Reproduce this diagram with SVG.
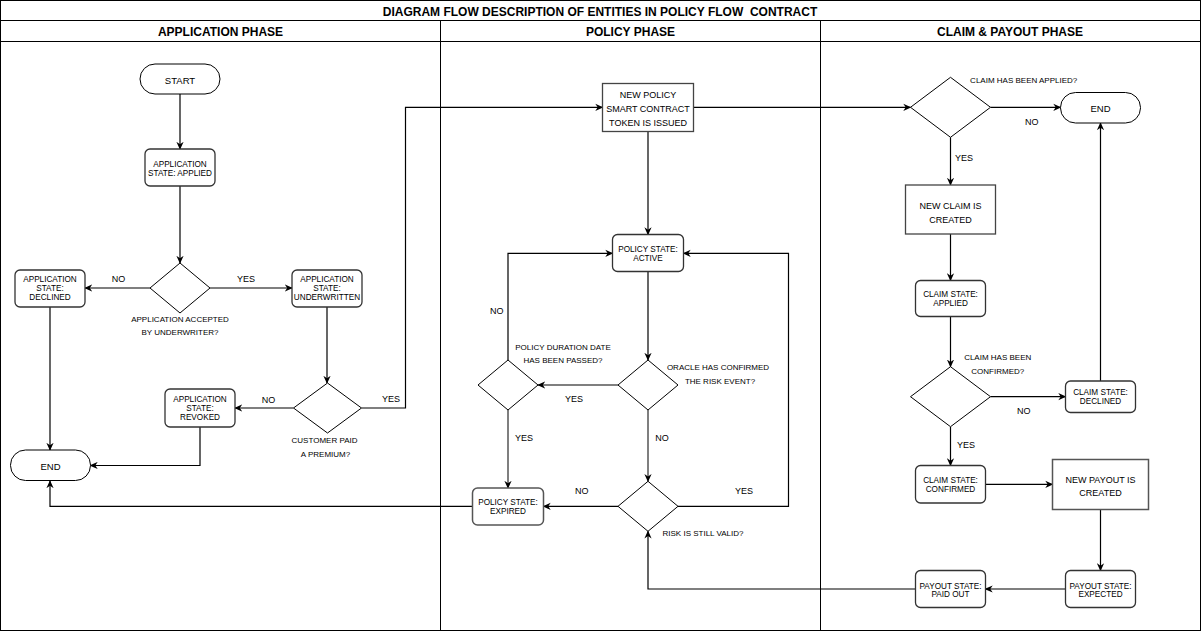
<svg xmlns="http://www.w3.org/2000/svg" width="1201" height="631" viewBox="0 0 1201 631">
<style>
text{font-family:"Liberation Sans",Arial,sans-serif;fill:#000;text-anchor:middle}
.title{font-size:12px;font-weight:bold;white-space:pre}
.hdr{font-size:12px;font-weight:bold}
.bt{font-size:8.2px}
.nt{font-size:9px}
.term{font-size:9.5px}
.lbl{font-size:8px}
.yn{font-size:9px}
.frame{fill:none;stroke:#000;stroke-width:1}
.rbox{fill:#fff;stroke:#333;stroke-width:1.3}
.sbox{fill:#fff;stroke:#444;stroke-width:1.3}
.dia{fill:#fff;stroke:#000;stroke-width:1}
.c{fill:none;stroke:#000;stroke-width:1.2;marker-end:url(#arr)}
.g{stroke:#555;stroke-width:1.5}
</style>
<defs>
<marker id="arr" viewBox="0 0 10 10" refX="9" refY="5" markerWidth="8" markerHeight="8" markerUnits="userSpaceOnUse" orient="auto">
<path d="M0,0.5 L10,5 L0,9.5 L3,5 Z" fill="#000"/>
</marker>
</defs>
<rect width="1201" height="631" fill="#fff"/>
<g id="frame">
<rect class="frame" x="0.5" y="0.5" width="1200" height="630"/>
<line class="frame" x1="0" y1="20.5" x2="1201" y2="20.5"/>
<line class="frame" x1="0" y1="41.5" x2="1201" y2="41.5"/>
<line class="frame" x1="440.5" y1="20.5" x2="440.5" y2="631"/>
<line class="frame" x1="820.5" y1="20.5" x2="820.5" y2="631"/>
<text class="title" x="600" y="15.5">DIAGRAM FLOW DESCRIPTION OF ENTITIES IN POLICY FLOW  CONTRACT</text>
<text class="hdr" x="220.5" y="36">APPLICATION PHASE</text>
<text class="hdr" x="630.5" y="36">POLICY PHASE</text>
<text class="hdr" x="1010" y="36">CLAIM &amp; PAYOUT PHASE</text>
</g>
<g id="connectors">
<path class="c" d="M180,94 V149"/>
<path class="c" d="M180,186 V263"/>
<path class="c" d="M150,288 H85"/>
<path class="c" d="M210,288 H292"/>
<path class="c" d="M327,307 V383"/>
<path class="c g" d="M293.5,408 H235"/>
<path class="c" d="M361.5,408 H405.5 V107.3 H602.5"/>
<path class="c" d="M50,307 V450"/>
<path class="c" d="M200,427 V465.5 H90.5"/>
<path class="c" d="M648,131.5 V234.5"/>
<path class="c" d="M693.5,107.3 H910.5"/>
<path class="c" d="M648,271.5 V360"/>
<path class="c g" d="M618,385 H538"/>
<path class="c" d="M508,360 V253.3 H612.5"/>
<path class="c g" d="M508,410 V488"/>
<path class="c g" d="M648,410 V481.3"/>
<path class="c" d="M618,506.3 H543.5"/>
<path class="c" d="M678,506.3 H788.5 V253.3 H683.5"/>
<path class="c" d="M472.5,506.3 H50 V481"/>
<path class="c" d="M990.5,107.3 H1060.5"/>
<path class="c" d="M950.5,137.3 V185"/>
<path class="c" d="M950.5,234 V280.5"/>
<path class="c" d="M950.5,316.5 V366.7"/>
<path class="c" d="M990.5,396.7 H1065.5"/>
<path class="c" d="M1100.5,381 V123"/>
<path class="c" d="M950.5,426.7 V465.5"/>
<path class="c" d="M985.5,484.3 H1052.5"/>
<path class="c" d="M1100.5,509.5 V570.5"/>
<path class="c" d="M1065.5,589 H985.5"/>
<path class="c" d="M915.5,589 H648 V531.3"/>
</g>
<g id="labels">
<text class="yn" x="118.5" y="282">NO</text>
<text class="yn" x="246" y="282">YES</text>
<text class="lbl" x="180" y="321.5">APPLICATION ACCEPTED</text>
<text class="lbl" x="180" y="335">BY UNDERWRITER?</text>
<text class="yn" x="268.5" y="403">NO</text>
<text class="yn" x="391" y="402">YES</text>
<text class="lbl" x="324.5" y="443">CUSTOMER PAID</text>
<text class="lbl" x="325.5" y="457">A PREMIUM?</text>
<text class="lbl" x="718" y="370">ORACLE HAS CONFIRMED</text>
<text class="lbl" x="720" y="384">THE RISK EVENT?</text>
<text class="yn" x="574" y="402">YES</text>
<text class="lbl" x="563" y="350">POLICY DURATION DATE</text>
<text class="lbl" x="563" y="363">HAS BEEN PASSED?</text>
<text class="yn" x="496.7" y="314">NO</text>
<text class="yn" x="524" y="440.5">YES</text>
<text class="yn" x="662" y="441">NO</text>
<text class="yn" x="581.7" y="494">NO</text>
<text class="yn" x="744" y="494">YES</text>
<text class="lbl" x="703" y="536.3">RISK IS STILL VALID?</text>
<text class="lbl" x="1023.7" y="83">CLAIM HAS BEEN APPLIED?</text>
<text class="yn" x="1031.7" y="125">NO</text>
<text class="yn" x="964" y="161">YES</text>
<text class="lbl" x="997.7" y="360">CLAIM HAS BEEN</text>
<text class="lbl" x="997.8" y="374">CONFIRMED?</text>
<text class="yn" x="1023.8" y="414">NO</text>
<text class="yn" x="966" y="447.5">YES</text>
</g>
<g id="start">
<rect class="frame" x="140" y="64" width="80" height="30" rx="15" style="fill:#fff"/>
<text class="term" x="180" y="83.5">START</text>
</g>
<g id="app-applied">
<rect class="rbox" x="145" y="149" width="70" height="37" rx="5"/>
<text class="bt" x="180" y="166.5">APPLICATION</text>
<text class="bt" x="180" y="175.5">STATE: APPLIED</text>
</g>
<g id="dec-underwriter">
<polygon class="dia" points="180,263 210,288 180,313 150,288"/>
</g>
<g id="app-declined">
<rect class="rbox" x="15" y="270" width="70" height="37" rx="5"/>
<text class="bt" x="50" y="282">APPLICATION</text>
<text class="bt" x="50" y="291">STATE:</text>
<text class="bt" x="50" y="300">DECLINED</text>
</g>
<g id="app-underwritten">
<rect class="rbox" x="292" y="270" width="70" height="37" rx="5"/>
<text class="bt" x="327" y="282">APPLICATION</text>
<text class="bt" x="327" y="291">STATE:</text>
<text class="bt" x="327" y="300">UNDERWRITTEN</text>
</g>
<g id="dec-premium">
<polygon class="dia" points="327.5,383 361.5,408 327.5,433 293.5,408"/>
</g>
<g id="app-revoked">
<rect class="rbox" x="165" y="389" width="70" height="38" rx="5"/>
<text class="bt" x="200" y="402">APPLICATION</text>
<text class="bt" x="200" y="411">STATE:</text>
<text class="bt" x="200" y="420">REVOKED</text>
</g>
<g id="end-app">
<rect class="frame" x="10.5" y="450" width="80" height="30.5" rx="15" style="fill:#fff"/>
<text class="term" x="50.5" y="469.5">END</text>
</g>
<g id="new-policy">
<rect class="sbox" x="602.5" y="83.5" width="91" height="48"/>
<text class="nt" x="648" y="98">NEW POLICY</text>
<text class="nt" x="648" y="112">SMART CONTRACT</text>
<text class="nt" x="648" y="126">TOKEN IS ISSUED</text>
</g>
<g id="policy-active">
<rect class="rbox" x="612.5" y="234.5" width="71" height="37" rx="5"/>
<text class="bt" x="648" y="252.3">POLICY STATE:</text>
<text class="bt" x="648" y="261">ACTIVE</text>
</g>
<g id="dec-oracle">
<polygon class="dia" points="648,360 678,385 648,410 618,385"/>
</g>
<g id="dec-duration">
<polygon class="dia" points="508,360 538,385 508,410 478,385"/>
</g>
<g id="dec-risk">
<polygon class="dia" points="648,481.3 678,506.3 648,531.3 618,506.3"/>
</g>
<g id="policy-expired">
<rect class="rbox" x="472.5" y="488" width="71" height="37" rx="5" style="stroke:#555;stroke-width:1.5"/>
<text class="bt" x="508" y="505">POLICY STATE:</text>
<text class="bt" x="508" y="514">EXPIRED</text>
</g>
<g id="dec-claim-applied">
<polygon class="dia" points="950.5,77.3 990.5,107.3 950.5,137.3 910.5,107.3"/>
</g>
<g id="end-claim">
<rect class="frame" x="1060.5" y="92.5" width="80" height="30.5" rx="15" style="fill:#fff"/>
<text class="term" x="1100.5" y="111.5">END</text>
</g>
<g id="new-claim">
<rect class="sbox" x="905.5" y="185" width="90" height="49"/>
<text class="nt" x="950.5" y="208.5">NEW CLAIM IS</text>
<text class="nt" x="950.5" y="222.5">CREATED</text>
</g>
<g id="claim-applied">
<rect class="rbox" x="915.5" y="280.5" width="70" height="36" rx="5"/>
<text class="bt" x="950.5" y="297">CLAIM STATE:</text>
<text class="bt" x="950.5" y="306">APPLIED</text>
</g>
<g id="dec-claim-confirmed">
<polygon class="dia" points="950.5,366.7 990.5,396.7 950.5,426.7 910.5,396.7"/>
</g>
<g id="claim-declined">
<rect class="rbox" x="1065.5" y="381" width="70" height="31.5" rx="5"/>
<text class="bt" x="1100.5" y="395.3">CLAIM STATE:</text>
<text class="bt" x="1100.5" y="404">DECLINED</text>
</g>
<g id="claim-confirmed">
<rect class="rbox" x="915.5" y="465.5" width="70" height="37.5" rx="5"/>
<text class="bt" x="950.5" y="483.3">CLAIM STATE:</text>
<text class="bt" x="950.5" y="492">CONFIRMED</text>
</g>
<g id="new-payout">
<rect class="sbox" x="1052.5" y="459.5" width="96" height="50" style="stroke:#555;stroke-width:1.5"/>
<text class="nt" x="1100.5" y="482.5">NEW PAYOUT IS</text>
<text class="nt" x="1100.5" y="496">CREATED</text>
</g>
<g id="payout-expected">
<rect class="rbox" x="1065.5" y="570.5" width="70" height="37" rx="5"/>
<text class="bt" x="1100.5" y="588.7">PAYOUT STATE:</text>
<text class="bt" x="1100.5" y="597.3">EXPECTED</text>
</g>
<g id="payout-paid">
<rect class="rbox" x="915.5" y="570.5" width="70" height="37" rx="5"/>
<text class="bt" x="950.5" y="588.7">PAYOUT STATE:</text>
<text class="bt" x="950.5" y="597.3">PAID OUT</text>
</g>
</svg>
